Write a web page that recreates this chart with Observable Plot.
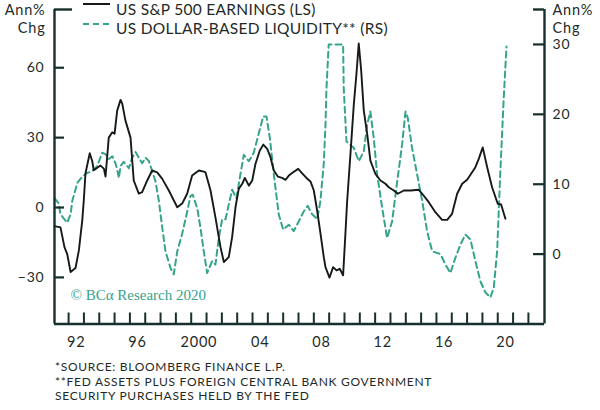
<!DOCTYPE html>
<html>
<head>
<meta charset="utf-8">
<script src="https://cdn.jsdelivr.net/npm/d3@7"></script>
<script src="https://cdn.jsdelivr.net/npm/@observablehq/plot@0.6"></script>
<style>
  body { margin: 0; background: #fff; }
  #wrap { position: relative; width: 600px; height: 410px; font-family: Lato, "Open Sans", sans-serif; color: #222; }
  #wrap svg.chart { display: block; }
  #wrap svg.chart text { letter-spacing: 0.8px; }
  .leg { position: absolute; font-size: 15.5px; letter-spacing: 0.3px; line-height: 16px; white-space: nowrap; color: #1e2a28; }
  .sw { position: absolute; }
  #notes { position: absolute; left: 55px; top: 360px; font-size: 12px; letter-spacing: 0.7px; line-height: 14.5px; color: #1e2a28; white-space: nowrap; }
</style>
</head>
<body>
<div id="wrap"></div>
<script>
// ---- data ----
const earnYears = [1991.08,1991.47,1991.73,1991.91,1992.13,1992.45,1992.67,1992.89,1992.99,1993.1,1993.38,1993.54,1993.64,1994.08,1994.3,1994.41,1994.62,1994.85,1995.0,1995.17,1995.39,1995.5,1995.71,1996.04,1996.25,1996.58,1996.8,1997.13,1997.45,1997.78,1998.1,1998.54,1999.09,1999.41,1999.74,2000.06,2000.5,2000.82,2000.93,2001.26,2001.58,2001.91,2002.13,2002.45,2002.67,2002.89,2003.1,2003.33,2003.5,2003.76,2003.98,2004.19,2004.47,2004.7,2004.96,2005.17,2005.39,2005.65,2005.93,2006.15,2006.37,2006.65,2006.98,2007.24,2007.52,2007.78,2008.0,2008.22,2008.43,2008.65,2008.76,2009.02,2009.26,2009.48,2009.69,2009.91,2010.06,2010.17,2010.39,2010.61,2010.78,2010.93,2011.09,2011.26,2011.48,2011.69,2012.02,2012.35,2012.67,2012.89,2013.22,2013.48,2013.87,2014.3,2014.85,2015.07,2015.5,2015.93,2016.37,2016.7,2017.02,2017.35,2017.68,2018.0,2018.22,2018.54,2018.76,2019.02,2019.31,2019.63,2020.0,2020.22,2020.5];
const earnValues = [-8,-8.5,-17,-20,-27.7,-26,-18.4,-5.6,3,14.6,23.3,20,16,18,16.7,13.3,30,32.3,31.7,41.6,46.2,44.6,37.3,30,11.6,6,6.6,11.6,15.9,15.1,12.4,7.3,0.1,1.7,6,13.7,15.9,15.4,15.1,7.3,-4.2,-17,-23.4,-21.3,-12.7,0.1,8,10.2,12.7,9.4,11.6,18.7,24.4,27,25.2,21.6,15.9,13.3,12.7,11.9,13.7,15.1,16.6,14.7,12.7,11.2,7.3,-1.5,-11,-21.3,-25.6,-30.1,-25.6,-27,-26.3,-29.1,-11.3,2.3,23,44.4,57.3,70.4,58.7,41.6,31.6,20.1,14.4,11.6,10.2,8.7,7.3,5.9,7.3,7.3,7.6,5.9,2.3,-2,-5.3,-5.3,-2.7,5.9,10.2,11.9,14.1,17.3,20.9,25.8,17.3,8.7,1.6,1.3,-4.8];

const liqYears = [1991.08,1991.34,1991.47,1991.91,1992.13,1992.24,1992.57,1992.89,1993.21,1993.54,1993.87,1994.19,1994.41,1994.62,1994.85,1995.06,1995.17,1995.28,1995.39,1995.6,1995.93,1996.15,1996.37,1996.58,1996.8,1997.02,1997.24,1997.45,1997.67,1997.89,1998.11,1998.32,1998.65,1998.86,1999.09,1999.41,1999.74,1999.95,2000.1,2000.4,2000.6,2000.82,2001.04,2001.37,2001.58,2001.8,2002.02,2002.24,2002.45,2002.67,2002.95,2003.17,2003.43,2003.76,2004.08,2004.41,2004.7,2004.91,2005.13,2005.39,2005.71,2006.0,2006.37,2006.69,2007.02,2007.34,2007.6,2007.89,2008.22,2008.43,2008.65,2008.76,2008.82,2008.97,2009.52,2009.91,2009.95,2010.06,2010.13,2010.61,2010.93,2011.26,2011.48,2011.69,2011.91,2012.13,2012.46,2012.78,2013.11,2013.44,2013.76,2013.98,2014.13,2014.41,2014.74,2015.07,2015.39,2015.72,2016.26,2016.59,2016.91,2017.24,2017.57,2017.89,2018.22,2018.54,2018.87,2019.2,2019.52,2019.74,2019.96,2020.17,2020.39,2020.57];
const liqValues = [8,7.3,5.7,4.5,5.7,7.6,10.2,11.1,11.6,11.9,12.6,14.5,14.3,13.6,14,13,12.1,10.9,12.6,13.2,12.3,13.8,14.6,13.8,13,13.8,13.3,11.9,10.4,7.6,3.8,0.4,-2,-2.9,0.4,2.9,6.1,8.3,8.5,6.5,3.8,0.4,-2.7,-1,-1.5,2.3,5,5,7.1,9.2,8,10.9,14.2,13.3,14.5,17.3,19.7,19.7,16.6,11.4,5.7,3.5,4.2,3.3,4.7,6.1,6.9,5.7,5,7.6,13,18.5,23.5,30,30,30,23.8,19,16.1,15.2,13.3,14.7,18.5,20.4,16.6,11.4,6.6,2.3,4.7,10.4,15.7,20.4,19.5,15.2,11.4,7.6,3.3,0.4,0,-1.5,-2.7,-0.5,1.4,2.8,2.1,-1,-3.9,-5.5,-6.2,-4.8,0.4,11.9,22.3,29.7];

const leftTicks = [-30, 0, 30, 60];
const rightTicks = [0, 10, 20, 30];
const labelYears = [1992, 1996, 2000, 2004, 2008, 2012, 2016, 2020];
const tickYears = d3.range(1992, 2023);
const xDomain = [1991.08, 2023.05];
const yLeftDomain = [-50, 85];
const yRightDomain = [-10, 35];

const seriesNames = ["US S&P 500 EARNINGS (LS)", "US DOLLAR-BASED LIQUIDITY** (RS)"];
const notes = ["*SOURCE: BLOOMBERG FINANCE L.P.", "**FED ASSETS PLUS FOREIGN CENTRAL BANK GOVERNMENT", "SECURITY PURCHASES HELD BY THE FED"];

// ---- styling ----
const ink = "#1e2a28";
const axisInk = "#17302d";
const teal = "#36a38b";
const W = 600, H = 352;
const mL = 54, mR = 56, mT = 9, mB = 28.5;
const innerW = W - mL - mR, innerH = H - mT - mB;

// map right-scale values onto left scale
const k = (yLeftDomain[1] - yLeftDomain[0]) / (yRightDomain[1] - yRightDomain[0]);
const toLeft = r => yLeftDomain[0] + (r - yRightDomain[0]) * k;
const fromLeft = l => (l - yLeftDomain[0]) / k + yRightDomain[0];

const earn = earnYears.map((x, i) => ({x, y: earnValues[i]}));
const liq = liqYears.map((x, i) => ({x, y: toLeft(liqValues[i])}));

const fmtYear = d => { const y = Math.floor(d); return y === 2000 ? "2000" : String(y % 100).padStart(2, "0"); };

const chart = Plot.plot({
  width: W, height: H,
  marginLeft: mL, marginRight: mR, marginTop: mT, marginBottom: mB,
  x: {type: "linear", domain: xDomain, label: null},
  y: {domain: yLeftDomain, label: null},
  style: {fontFamily: "Lato, 'Open Sans', sans-serif", fontSize: "14px", color: ink, background: "#fff", overflow: "visible"},
  marks: [
    Plot.line(liq, {x: "x", y: "y", stroke: teal, strokeWidth: 2, strokeDasharray: "6,4"}),
    Plot.line(earn, {x: "x", y: "y", stroke: "#151a19", strokeWidth: 1.9}),
    // frame lines
    Plot.ruleX([xDomain[0], xDomain[1]], {stroke: axisInk, strokeWidth: 2.4}),
    Plot.ruleY([yLeftDomain[0]], {stroke: axisInk, strokeWidth: 2.4}),
    // inward ticks
    Plot.tickY(leftTicks, {y: d => d, insetRight: innerW - 10, stroke: axisInk, strokeWidth: 2.2}),
    Plot.tickY(rightTicks.map(toLeft), {y: d => d, insetLeft: innerW - 11, stroke: axisInk, strokeWidth: 2.2}),
    Plot.tickY([yLeftDomain[1]], {y: d => d, insetRight: innerW - 18, stroke: axisInk, strokeWidth: 2.4}),
    Plot.tickY([yLeftDomain[1]], {y: d => d, insetLeft: innerW - 11, stroke: axisInk, strokeWidth: 2.4}),
    Plot.tickX(tickYears, {x: d => d, insetTop: innerH - 11, stroke: axisInk, strokeWidth: 2}),
    // axis labels
    Plot.axisY(leftTicks, {anchor: "left", label: null, tickSize: 0, tickPadding: 10, fontSize: 14, fill: ink}),
    Plot.axisY(rightTicks.map(toLeft), {anchor: "right", label: null, tickSize: 0, tickPadding: 8, tickFormat: d => String(Math.round(fromLeft(d))), fontSize: 14, fill: ink}),
    Plot.axisX(labelYears.map(y => y + 0.5), {anchor: "bottom", label: null, tickSize: 0, tickPadding: 13, tickFormat: fmtYear, fontSize: 14.5, fill: ink}),
    // unit labels
    Plot.text(["Ann%"], {text: d => d, frameAnchor: "top-left", dx: -9, dy: 1, textAnchor: "end", lineAnchor: "middle", fontSize: 14.5, fill: ink}),
    Plot.text(["Chg"], {text: d => d, frameAnchor: "top-left", dx: -9, dy: 19, textAnchor: "end", lineAnchor: "middle", fontSize: 14.5, fill: ink}),
    Plot.text(["Ann%"], {text: d => d, frameAnchor: "top-right", dx: 8, dy: 1, textAnchor: "start", lineAnchor: "middle", fontSize: 14.5, fill: ink}),
    Plot.text(["Chg"], {text: d => d, frameAnchor: "top-right", dx: 8, dy: 19, textAnchor: "start", lineAnchor: "middle", fontSize: 14.5, fill: ink}),
    // watermark
    Plot.text(["© BCα Research 2020"], {text: d => d, frameAnchor: "bottom-left", dx: 16, dy: -29, textAnchor: "start", lineAnchor: "middle", fontFamily: "'Liberation Serif', serif", fontSize: 15, fill: teal})
  ]
});
chart.classList.add("chart");
const wrap = document.getElementById("wrap");
wrap.appendChild(chart);
// watermark: no extra letter spacing
chart.querySelectorAll("text").forEach(t => { if (t.textContent.includes("Research")) t.style.letterSpacing = "0px"; });

// legend (HTML overlay above the frame)
function addLegend(name, top, dashed) {
  const ns = "http://www.w3.org/2000/svg";
  const sw = document.createElementNS(ns, "svg");
  sw.setAttribute("class", "sw");
  sw.setAttribute("width", 28); sw.setAttribute("height", 8);
  sw.style.left = "83px"; sw.style.top = (top - 4) + "px";
  const ln = document.createElementNS(ns, "line");
  ln.setAttribute("x1", 0); ln.setAttribute("x2", 27); ln.setAttribute("y1", 4); ln.setAttribute("y2", 4);
  ln.setAttribute("stroke", dashed ? teal : "#151a19");
  ln.setAttribute("stroke-width", 2);
  if (dashed) ln.setAttribute("stroke-dasharray", "6,4");
  sw.appendChild(ln);
  wrap.appendChild(sw);
  const t = document.createElement("div");
  t.className = "leg";
  t.textContent = name;
  t.style.left = "116px";
  t.style.top = (top + (dashed ? 3.5 : 5) - 8) + "px";
  wrap.appendChild(t);
}
addLegend(seriesNames[0], 4, false);
addLegend(seriesNames[1], 24, true);

const nd = document.createElement("div");
nd.id = "notes";
nd.innerHTML = notes.map(s => s.replace(/&/g, "&amp;")).join("<br>");
wrap.appendChild(nd);
</script>
</body>
</html>
